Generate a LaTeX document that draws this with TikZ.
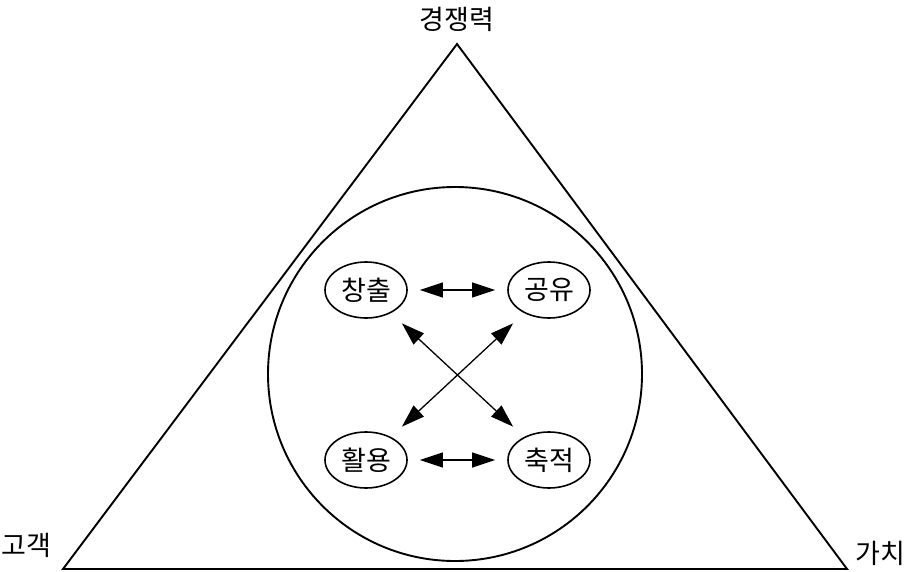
\documentclass[tikz,border=0pt]{standalone}
\usepackage{fontspec}
\setmainfont{Noto Sans CJK KR}
\usetikzlibrary{shapes.geometric,arrows.meta}
\begin{document}
\begin{tikzpicture}[x=1pt,y=-1pt,
  lbl/.style={font=\fontsize{27}{27}\selectfont, inner sep=0pt},
  oval/.style={ellipse, draw, line width=1.6pt, minimum width=82pt, minimum height=56pt, inner sep=0pt, font=\fontsize{27}{27}\selectfont},
  tip/.tip={Triangle[length=23pt,width=15pt]},
  dbl/.style={line width=1.3pt, tip-tip, shorten <=12pt, shorten >=12pt},
  frame/.style={line width=1.9pt}]
\useasboundingbox (0,0) rectangle (909,572);
\coordinate (apex) at (457,44);
\coordinate (bl) at (63,569);
\coordinate (br) at (847,569);
\draw[frame, line join=miter] (apex) -- (bl) -- (br) -- cycle;
\node[draw, circle, frame, minimum size=374pt, inner sep=0pt] (ring) at (455,374) {};
\node[lbl] (top) at (457,19) {경쟁력};
\node[lbl, anchor=center] (left) at (26,545) {고객};
\node[lbl, anchor=west] (right) at (855,553) {가치};
\node[oval] (a) at (366,290) {창출};
\node[oval] (b) at (549,290) {공유};
\node[oval] (c) at (366,460) {활용};
\node[oval] (d) at (549,460) {축적};
\draw[dbl] (a) -- (b);
\draw[dbl] (c) -- (d);
\draw[dbl, shorten <=15pt, shorten >=15pt] (a) -- (d);
\draw[dbl, shorten <=15pt, shorten >=15pt] (b) -- (c);
\end{tikzpicture}
\end{document}
